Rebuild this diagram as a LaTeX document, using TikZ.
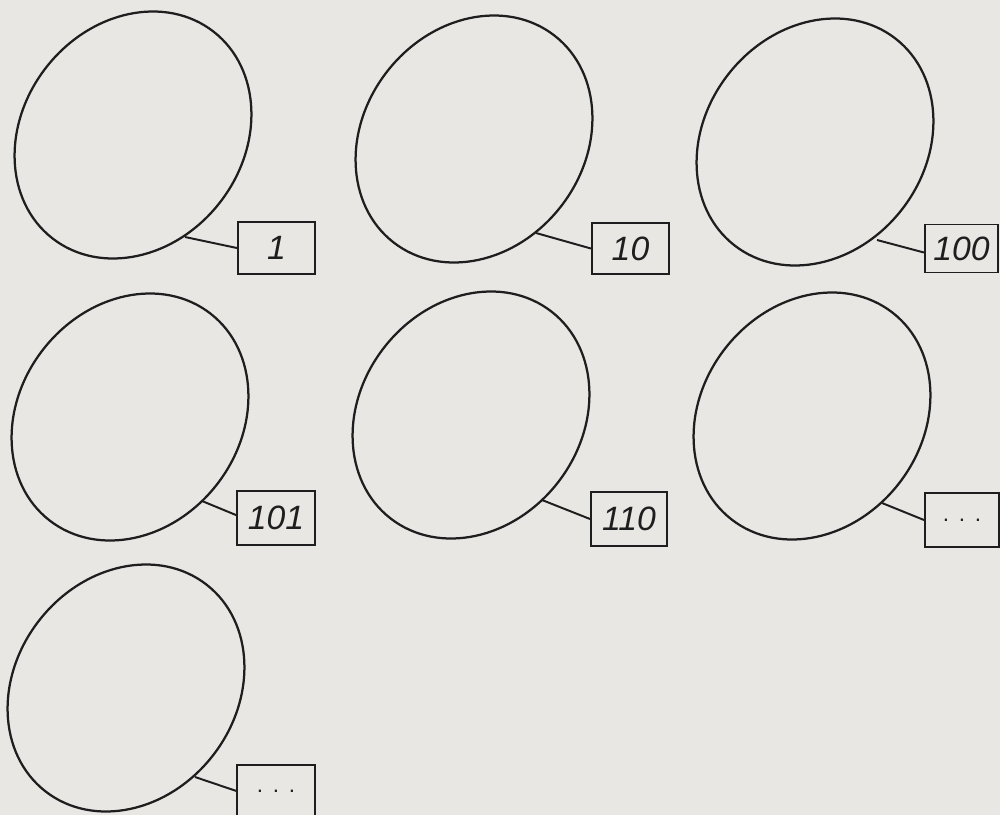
\documentclass[tikz,border=0pt]{standalone}
\usepackage{fontspec}
\newfontfamily\hand{Liberation Sans}
\usetikzlibrary{shapes.geometric}
\definecolor{paper}{HTML}{E9E7E3}
\definecolor{ink}{HTML}{1E1E1E}
\begin{document}
\begin{tikzpicture}[x=0.025cm,y=-0.025cm,
  blob/.style={draw=ink, line width=1.6pt, shape=ellipse, minimum width=6.55cm,
    minimum height=5.5cm, rotate=52, inner sep=0pt},
  tag/.style={draw=ink, line width=1.4pt, minimum width=1.93cm, minimum height=1.28cm,
    inner sep=0pt, font=\hand\itshape\fontsize{24}{24}\selectfont, text=ink},
  link/.style={draw=ink, line width=1.4pt}]
\fill[paper] (0,0) rectangle (1000,815);
\useasboundingbox (0,0) rectangle (1000,815);

% ellipses
\node[blob] (e1) at (133,135) {};
\node[blob] (e2) at (474,139) {};
\node[blob] (e3) at (815,142) {};
\node[blob] (e4) at (130,417) {};
\node[blob] (e5) at (471,415) {};
\node[blob] (e6) at (812,416) {};
\node[blob] (e7) at (126,688) {};

% boxes
\node[tag] (b1) at (276.5,248) {1};
\node[tag] (b2) at (630.5,248.5) {10};
\node[tag, minimum width=1.83cm, minimum height=1.2cm] (b3) at (961.5,248.5) {100};
\node[tag, minimum height=1.35cm] (b4) at (276,518) {101};
\node[tag, minimum width=1.9cm, minimum height=1.35cm] (b5) at (629,519) {110};
\node[tag, minimum width=1.85cm, minimum height=1.35cm, font=\hand\fontsize{16}{16}\selectfont] (b6) at (962,520) {.\hspace{7pt}.\hspace{7pt}.};
\node[tag, minimum height=1.3cm, font=\hand\fontsize{16}{16}\selectfont] (b7) at (276,791) {.\hspace{7pt}.\hspace{7pt}.};

% attachment points on the ellipses
\coordinate (p1) at (185,237);
\coordinate (p2) at (536,233);
\coordinate (p3) at (877,240);
\coordinate (p4) at (202,501);
\coordinate (p5) at (542,500);
\coordinate (p6) at (882,503);
\coordinate (p7) at (195,777);

% connectors
\draw[link] (p1) -- (b1.west);
\draw[link] (p2) -- (b2.west);
\draw[link] (p3) -- ([yshift=-0.1cm]b3.west);
\draw[link] (p4) -- ([yshift=0.07cm]b4.west);
\draw[link] (p5) -- (b5.west);
\draw[link] (p6) -- (b6.west);
\draw[link] (p7) -- (b7.west);
\end{tikzpicture}
\end{document}
